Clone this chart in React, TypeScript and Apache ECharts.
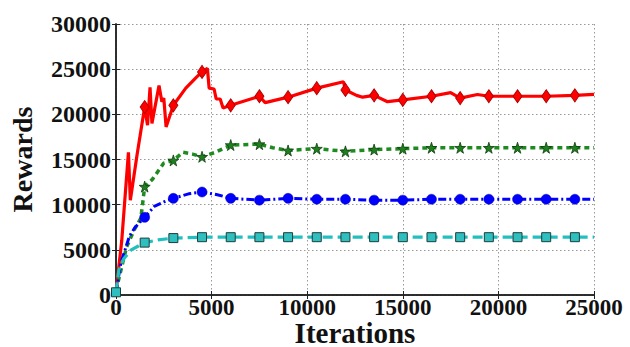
import React, { useEffect, useRef } from "react";
import * as echarts from "echarts";

const xTickInterval = 5000;
const xMax = 25000;
const yTickInterval = 5000;
const yMax = 30000;

const markerIterations = [1500, 3000, 4500, 6000, 7500, 9000, 10500, 12000, 13500, 15000, 16500, 18000, 19500, 21000, 22500, 24000];
const cyanMarkerIterations = [0, ...markerIterations];

const redData: [number, number][] = [
  [0, 300], [300, 6000], [650, 15800], [750, 10500], [1100, 15500], [1500, 20800],
  [1650, 18800], [1780, 23000], [1880, 19000], [2250, 23200], [2400, 21400], [2500, 21800],
  [2620, 18600], [3000, 21000], [3650, 22900], [4200, 24100], [4500, 24700], [4780, 25100],
  [4870, 22900], [5130, 22800], [5240, 21700], [5450, 21700], [5600, 20700], [6000, 21000],
  [7500, 22000], [7800, 21300], [9000, 21900], [10500, 22900], [11900, 23600], [12000, 22700],
  [12580, 22100], [12900, 21900], [13500, 22100], [14200, 21400], [15000, 21600], [16500, 22000],
  [17500, 22400], [18000, 21800], [18900, 22200], [19500, 22000], [21000, 22000], [22500, 22000],
  [24000, 22100], [25000, 22200],
];

const greenData: [number, number][] = [
  [0, 500], [550, 5300], [950, 7200], [1300, 8500], [1500, 12000], [1900, 12800],
  [2500, 14600], [3000, 14900], [3500, 15800], [4000, 15600], [4500, 15300], [5200, 15800],
  [6000, 16600], [7500, 16700], [8200, 16300], [9000, 16000], [10500, 16200], [12000, 15900],
  [13500, 16100], [15000, 16200], [16500, 16300], [18000, 16300], [19500, 16300], [21000, 16300],
  [22500, 16300], [24000, 16300], [25000, 16300],
];

const blueData: [number, number][] = [
  [0, 300], [250, 3500], [700, 6500], [1000, 7500], [1500, 8600], [2000, 9800],
  [2500, 10300], [3000, 10700], [3800, 11200], [4500, 11400], [5300, 11100], [6000, 10700],
  [7500, 10500], [9000, 10700], [10500, 10600], [12000, 10600], [13500, 10500], [15000, 10500],
  [16500, 10600], [18000, 10600], [19500, 10600], [21000, 10600], [22500, 10600], [24000, 10600],
  [25000, 10600],
];

const cyanData: [number, number][] = [
  [0, 300], [150, 2800], [400, 4000], [800, 5000], [1500, 5800], [2200, 6100],
  [3000, 6300], [4500, 6400], [6000, 6400], [7500, 6400], [9000, 6400], [10500, 6400],
  [12000, 6400], [13500, 6400], [15000, 6400], [16500, 6400], [18000, 6400], [19500, 6400],
  [21000, 6400], [22500, 6400], [24000, 6400], [25000, 6400],
];

const STAR = "path://M50,0 L61,35 L98,35 L68,57 L79,91 L50,70 L21,91 L32,57 L2,35 L39,35 Z";
const FONT = "Liberation Serif";

function withMarkers(data: [number, number][], marks: number[], symbol: string, size: any, style: any) {
  return data.map(([x, y]) =>
    marks.includes(x)
      ? { value: [x, y], symbol, symbolSize: size, itemStyle: style }
      : { value: [x, y], symbol: "none" }
  );
}

export default function App() {
  const ref = useRef<HTMLDivElement>(null);
  useEffect(() => {
    if (!ref.current) return;
    const chart = echarts.init(ref.current, undefined, { renderer: "svg" });
    const labelStyle = {
      fontFamily: FONT, fontWeight: "bold" as const, fontSize: 24, color: "#111",
      formatter: (v: number) => String(v),
    };
    const split = { show: true, lineStyle: { color: "#999", type: [1.5, 2.5] as any, width: 1 } };
    const axisLine = { show: true, lineStyle: { color: "#222", width: 1.5 } };
    const tick = { show: true, inside: true, length: 4, lineStyle: { color: "#222" } };
    chart.setOption({
      animation: false,
      backgroundColor: "#fff",
      grid: { left: 116, right: 36, top: 24, bottom: 52, show: false, containLabel: false, outerBoundsMode: "none" },
      xAxis: [
        {
          type: "value", min: 0, max: xMax, interval: xTickInterval,
          axisLine, axisTick: tick, splitLine: split,
          axisLabel: { ...labelStyle, fontSize: 23, margin: 3, lineHeight: 18 },
          name: "Iterations", nameLocation: "middle", nameGap: 27, nameMoveOverlap: false,
          nameTextStyle: { fontFamily: FONT, fontWeight: "bold", fontSize: 29, color: "#111", lineHeight: 22 },
        },
        {
          type: "value", position: "top", min: 0, max: xMax, interval: xTickInterval,
          axisLine, axisTick: tick, splitLine: { show: false }, axisLabel: { show: false },
        },
      ],
      yAxis: [
        {
          type: "value", min: 0, max: yMax, interval: yTickInterval,
          axisLine, axisTick: tick, splitLine: split,
          axisLabel: { ...labelStyle, margin: 5 },
          name: "Rewards", nameLocation: "middle", nameGap: 80, nameRotate: 90, nameMoveOverlap: false,
          nameTextStyle: { fontFamily: FONT, fontWeight: "bold", fontSize: 28, color: "#111" },
        },
        {
          type: "value", position: "right", min: 0, max: yMax, interval: yTickInterval,
          axisLine, axisTick: tick, splitLine: { show: false }, axisLabel: { show: false },
        },
      ],
      series: [
        {
          type: "line", symbol: "none", showSymbol: true, xAxisIndex: 0, yAxisIndex: 0,
          data: withMarkers(redData, markerIterations, "diamond", [9, 13], { color: "#f00", borderColor: "#b00000", borderWidth: 1 }),
          lineStyle: { color: "#ff0000", width: 3.2 },
          itemStyle: { color: "#f00" },
        },
        {
          type: "line", symbol: "none", showSymbol: true,
          data: withMarkers(greenData, markerIterations, STAR, 11, { color: "#1f7f1f", borderColor: "#0b3d0b", borderWidth: 0.8 }),
          lineStyle: { color: "#1f8a1f", width: 3.5, type: [5, 4] },
          itemStyle: { color: "#1f7f1f" },
        },
        {
          type: "line", symbol: "none", showSymbol: true,
          data: withMarkers(blueData, markerIterations, "circle", 10, { color: "#0000ff", borderColor: "#0000aa", borderWidth: 0.5 }),
          lineStyle: { color: "#0000ff", width: 3, type: [8, 3, 2, 3] },
          itemStyle: { color: "#0000ff" },
        },
        {
          type: "line", symbol: "none", showSymbol: true,
          data: withMarkers(cyanData, cyanMarkerIterations, "rect", 9, { color: "#2fbfbf", borderColor: "#1c3d3d", borderWidth: 1 }),
          lineStyle: { color: "#20c0c0", width: 3.2, type: [10, 5] },
          itemStyle: { color: "#2fbfbf" },
        },
      ],
    });
    return () => chart.dispose();
  }, []);
  return <div ref={ref} style={{ position: "fixed", left: 0, top: 0, width: 630, height: 347, background: "#fff" }} />;
}
